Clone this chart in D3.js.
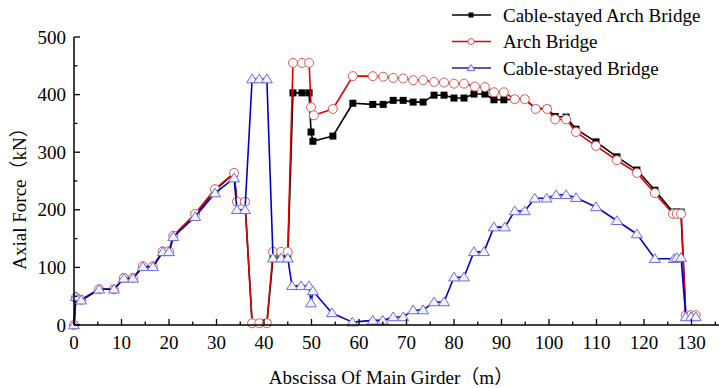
<!DOCTYPE html>
<html>
<head>
<meta charset="utf-8">
<script src="https://cdn.jsdelivr.net/npm/d3@7"></script>
<style>
  body { margin: 0; background: #fff; }
  svg { display: block; }
  text { font-family: "Liberation Serif", "Times New Roman", "Noto Sans CJK SC", serif; fill: #000; }
</style>
</head>
<body>
<svg width="719" height="388"></svg>
<script>
// series values (x in m, axial force in kN)
var archCableX = [0, 0.4, 1.5, 5.3, 8.4, 10.5, 12.4, 14.5, 16.6, 18.7, 20, 20.9, 25.5, 29.7, 33.7, 34.3, 36, 37.5, 39, 40.6, 41.9, 43.6, 45, 46.1, 48, 49.5, 49.9, 50.3, 54.5, 58.7, 62.9, 65.1, 67.2, 69.3, 71.4, 73.5, 75.8, 77.9, 80, 82.1, 84.2, 86.5, 88.4, 90.5, 92.8, 94.9, 97.2, 99.6, 101.3, 103.6, 105.7, 109.9, 114.3, 118.5, 122.3, 126.1, 126.9, 127.8, 128.8, 129.9, 130.9];
var archCableY = [0, 47, 43, 62, 62, 81, 81, 101, 101, 127, 127, 153, 191, 234, 263, 214, 214, 3, 3, 3, 116, 116, 116, 403, 403, 403, 335, 319, 328, 385, 383, 383, 390, 390, 387, 387, 399, 399, 394, 394, 401, 401, 391, 391, 392, 392, 376, 376, 362, 361, 340, 318, 292, 269, 234, 196, 196, 196, 14, 14, 14];

var archX = [0, 0.4, 1.5, 5.3, 8.4, 10.5, 12.4, 14.5, 16.6, 18.7, 20, 20.9, 25.5, 29.7, 33.7, 34.3, 36, 37.5, 39, 40.6, 41.9, 43.6, 45, 46.1, 48, 49.5, 49.9, 50.5, 54.5, 58.7, 62.9, 65.1, 67.2, 69.3, 71.4, 73.5, 75.8, 77.9, 80, 82.1, 84.4, 86.5, 88.4, 90.5, 92.8, 94.9, 97.2, 99.6, 101.3, 103.6, 105.7, 109.9, 114.3, 118.5, 122.3, 126.1, 126.9, 127.8, 128.8, 129.9, 130.9];
var archY = [0, 48, 44, 62, 62, 82, 82, 102, 102, 128, 128, 155, 193, 236, 264, 214, 214, 3, 3, 3, 127, 127, 127, 455, 455, 455, 378, 364, 375, 432, 432, 431, 429, 428, 425, 425, 422, 421, 419, 419, 414, 413, 404, 404, 392, 392, 375, 375, 357, 357, 335, 311, 286, 264, 229, 193, 193, 193, 17, 17, 17];

var cableX = [0, 0.4, 1.5, 5.3, 8.4, 10.5, 12.4, 14.5, 16.6, 18.7, 20, 20.9, 25.5, 29.7, 33.7, 34.3, 36, 37.5, 39, 40.6, 41.9, 43.6, 45, 45.9, 47.8, 49.5, 49.9, 50.3, 54.3, 58.6, 62.9, 65, 67.2, 69.3, 71.4, 73.5, 75.8, 77.9, 80, 82.1, 84.2, 86.3, 88.4, 90.7, 92.8, 94.9, 97, 99.5, 101.5, 103.6, 105.7, 109.9, 114.3, 118.5, 122.3, 126.3, 126.9, 127.8, 128.8, 129.9, 130.9];
var cableY = [0, 49, 43, 62, 62, 81, 81, 101, 101, 127, 127, 153, 188, 229, 255, 200, 200, 427, 427, 427, 116, 116, 116, 68, 68, 68, 38, 59, 21, 5, 8, 8, 14, 14, 26, 26, 40, 40, 83, 83, 127, 127, 170, 170, 198, 198, 220, 220, 226, 226, 221, 205, 181, 158, 115, 115, 117, 117, 14, 14, 14];

var seriesNames = ["Cable-stayed Arch Bridge", "Arch Bridge", "Cable-stayed Bridge"];
var xTicks = d3.range(0, 131, 10);
var yTicks = [0, 100, 200, 300, 400, 500];

var svg = d3.select("svg"),
    plotLeft = 74, plotBottom = 325, plotTop = 37;

var x = d3.scaleLinear().domain([0, 136]).range([plotLeft, plotLeft + 4.75 * 136]);
var y = d3.scaleLinear().domain([0, 500]).range([plotBottom, plotTop]);

var series = [
  {name: seriesNames[0], xs: archCableX, ys: archCableY, line: "#000", mark: "square"},
  {name: seriesNames[1], xs: archX, ys: archY, line: "#e00000", mark: "circle"},
  {name: seriesNames[2], xs: cableX, ys: cableY, line: "#0000cc", mark: "triangle"}
];

var line = d3.line()
    .x(function(d) { return x(d[0]); })
    .y(function(d) { return y(d[1]); });

function drawMark(g, type, px, py, small) {
  if (type == "square") {
    var s = small ? 5 : 7;
    g.append("rect").attr("x", px - s / 2).attr("y", py - s / 2)
      .attr("width", s).attr("height", s).attr("fill", "#000");
  } else if (type == "circle") {
    g.append("circle").attr("cx", px).attr("cy", py).attr("r", small ? 3 : 4.5)
      .attr("fill", "#fff").attr("stroke", "#d85a5a").attr("stroke-width", 1);
  } else {
    var h = small ? 3.5 : 5;
    g.append("path")
      .attr("d", "M" + px + "," + (py - h) + "L" + (px + h * 1.1) + "," + (py + h * 0.75) + "L" + (px - h * 1.1) + "," + (py + h * 0.75) + "Z")
      .attr("fill", "#f2f2ff").attr("stroke", "#6e6ed8").attr("stroke-width", 1);
  }
}

// lines + markers
series.forEach(function(s) {
  var pts = s.xs.map(function(v, i) { return [v, s.ys[i]]; });
  var g = svg.append("g");
  g.append("path")
    .datum(pts)
    .attr("fill", "none")
    .attr("stroke", s.line)
    .attr("stroke-width", 1.6)
    .attr("stroke-linejoin", "round")
    .attr("d", line);
  pts.forEach(function(p) { drawMark(g, s.mark, x(p[0]), y(p[1]), false); });
});

// X axis
var xAxis = svg.append("g").attr("transform", "translate(0," + plotBottom + ")");
xAxis.append("line").attr("x1", plotLeft).attr("x2", 719).attr("stroke", "#000").attr("stroke-width", 1.5);
d3.range(0, 136, 5).forEach(function(v) {
  var major = v % 10 == 0;
  xAxis.append("line").attr("x1", x(v)).attr("x2", x(v))
    .attr("y1", 0).attr("y2", major ? -6 : -3.5)
    .attr("stroke", "#000").attr("stroke-width", 1.3);
});
xAxis.selectAll("text.tick").data(xTicks).enter().append("text")
  .attr("x", function(d) { return x(d); })
  .attr("y", 24)
  .attr("text-anchor", "middle")
  .style("font-size", "19px")
  .text(function(d) { return d; });

// Y axis
var yAxis = svg.append("g");
yAxis.append("line").attr("x1", plotLeft).attr("x2", plotLeft).attr("y1", plotBottom).attr("y2", plotTop)
  .attr("stroke", "#000").attr("stroke-width", 1.5);
d3.range(0, 501, 50).forEach(function(v) {
  var major = v % 100 == 0;
  yAxis.append("line").attr("x1", plotLeft).attr("x2", plotLeft + (major ? 6 : 3.5))
    .attr("y1", y(v)).attr("y2", y(v))
    .attr("stroke", "#000").attr("stroke-width", 1.3);
});
yAxis.selectAll("text.tick").data(yTicks).enter().append("text")
  .attr("x", plotLeft - 8)
  .attr("y", function(d) { return y(d); })
  .attr("dy", "0.35em")
  .attr("text-anchor", "end")
  .style("font-size", "19px")
  .text(function(d) { return d; });

// axis titles
svg.append("text")
  .attr("x", 391).attr("y", 384)
  .attr("text-anchor", "middle")
  .style("font-size", "19px")
  .text("Abscissa Of Main Girder（m）");

svg.append("text")
  .attr("transform", "translate(26,194) rotate(-90)")
  .attr("text-anchor", "middle")
  .style("font-size", "19px")
  .text("Axial Force（kN）");

// legend
var legend = svg.append("g");
series.forEach(function(s, i) {
  var ly = 15 + i * 26.5;
  legend.append("line").attr("x1", 452).attr("x2", 491).attr("y1", ly).attr("y2", ly)
    .attr("stroke", i == 2 ? "#202090" : s.line).attr("stroke-width", 1.6);
  drawMark(legend, s.mark, 471, ly, true);
  legend.append("text").attr("x", 503).attr("y", ly).attr("dy", "0.35em")
    .style("font-size", "19px")
    .text(s.name);
});
</script>
</body>
</html>
